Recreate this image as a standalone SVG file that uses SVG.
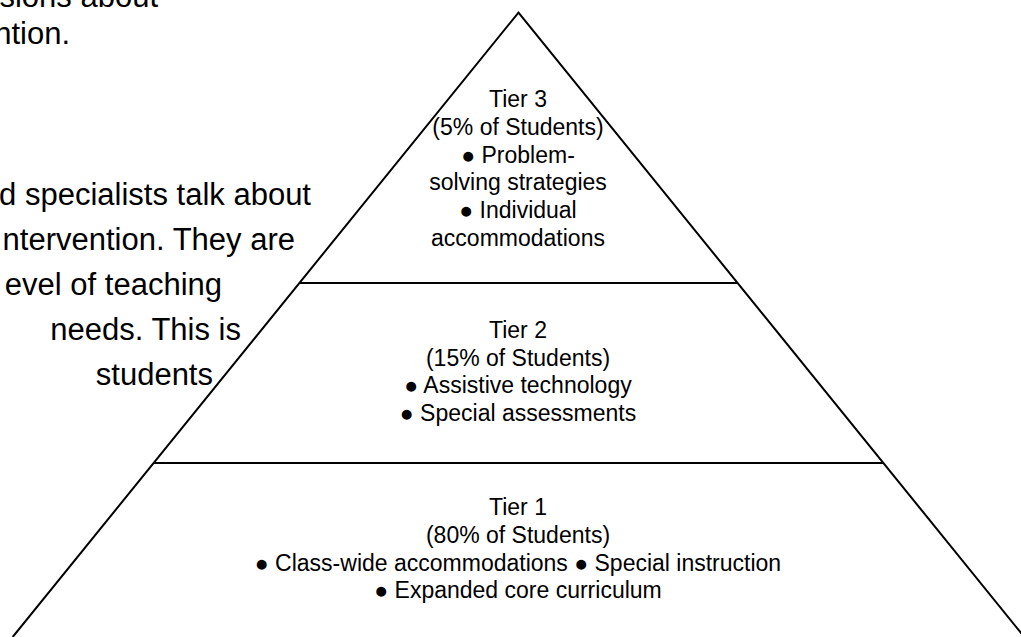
<svg xmlns="http://www.w3.org/2000/svg" width="1021" height="637" viewBox="0 0 1021 637">
  <style>
    .edge { stroke: #000; stroke-width: 2; fill: none; }
    .tier { font-family: "Liberation Sans", Arial, sans-serif; font-size: 23px; fill: #000; text-anchor: middle; }
    .para { font-family: "Liberation Sans", Arial, sans-serif; font-size: 31px; fill: #000; text-anchor: end; }
  </style>
  <rect width="1021" height="637" fill="#fff"/>
  <g id="paragraph">
    <text class="para" x="158" y="7">sions about</text>
    <text class="para" x="70" y="44">ntion.</text>
    <text class="para" x="311" y="205">d specialists talk about</text>
    <text class="para" x="295" y="250">ntervention. They are</text>
    <text class="para" x="222" y="295">evel of teaching</text>
    <text class="para" x="241" y="340">needs. This is</text>
    <text class="para" x="213" y="385">students</text>
  </g>
  <g id="connectors">
    <path class="edge" d="M12.7,637 L518.5,12.5 L1024.3,637"/>
    <line class="edge" x1="299" y1="283" x2="738" y2="283"/>
    <line class="edge" x1="153" y1="463" x2="883" y2="463"/>
  </g>
  <g id="tier3">
    <text class="tier" x="518" y="107">Tier 3</text>
    <text class="tier" x="518" y="135">(5% of Students)</text>
    <text class="tier" x="518" y="163">● Problem-</text>
    <text class="tier" x="518" y="190">solving strategies</text>
    <text class="tier" x="518" y="218">● Individual</text>
    <text class="tier" x="518" y="246">accommodations</text>
  </g>
  <g id="tier2">
    <text class="tier" x="518" y="338">Tier 2</text>
    <text class="tier" x="518" y="366">(15% of Students)</text>
    <text class="tier" x="518" y="393">● Assistive technology</text>
    <text class="tier" x="518" y="421">● Special assessments</text>
  </g>
  <g id="tier1">
    <text class="tier" x="518" y="515">Tier 1</text>
    <text class="tier" x="518" y="543">(80% of Students)</text>
    <text class="tier" x="518" y="571">● Class-wide accommodations ● Special instruction</text>
    <text class="tier" x="518" y="598">● Expanded core curriculum</text>
  </g>
</svg>
